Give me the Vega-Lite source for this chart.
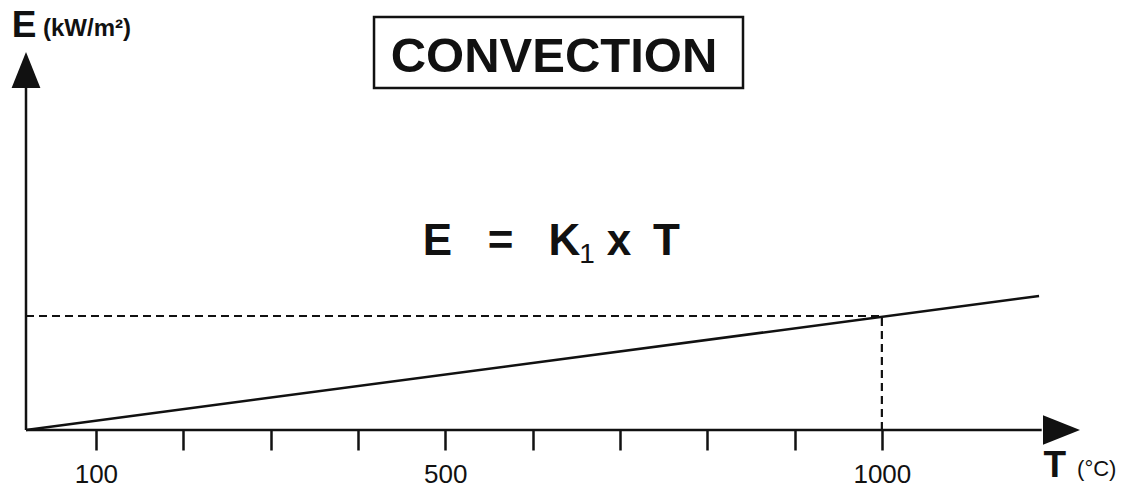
{
  "$schema": "https://vega.github.io/schema/vega-lite/v6.json",
  "autosize": {"type": "none"},
  "padding": {"left": 26, "top": 52, "right": 48, "bottom": 60},
  "width": 1048,
  "height": 378,
  "background": "white",
  "config": {
    "view": {"stroke": null},
    "font": "Liberation Sans",
    "axisX": {
      "domain": false,
      "grid": false,
      "tickSize": 20,
      "tickWidth": 2.5,
      "tickColor": "#111",
      "labelFontSize": 26,
      "labelFont": "Liberation Sans",
      "labelColor": "#111",
      "labelPadding": 11,
      "labelFlush": false,
      "labelOverlap": false,
      "labelBound": false
    }
  },
  "datasets": {
    "yAxisLine": [{"T": 20, "E": 0, "E2": 34.2}],
    "xAxisLine": [{"T": 20, "T2": 1183, "E": 0}],
    "yArrow": [{"T": 20, "E": 36}],
    "xArrow": [{"T": 1205.7, "E": 0}],
    "flux": [{"T": 20, "E": 0}, {"T": 1180, "E": 13.4}],
    "refH": [{"T": 20, "T2": 1000, "E": 11.4}],
    "refV": [{"T": 1000, "E": 0, "E2": 11.4}],
    "titleBox": [{"T": 418.5, "T2": 841, "E": 41.3, "E2": 34.2}],
    "titleText": [{"T": 624.6, "E": 35.8, "text": "CONVECTION"}],
    "formula": [
      {"T": 491.2, "E": 17.5, "text": "E"},
      {"T": 563.3, "E": 17.5, "text": "="},
      {"T": 636.6, "E": 17.5, "text": "K"},
      {"T": 699, "E": 17.5, "text": "x"},
      {"T": 753.4, "E": 17.5, "text": "T"}
    ],
    "formulaSub": [{"T": 662.4, "E": 16.7, "text": "1"}],
    "axisNames": [
      {"T": 17.7, "E": 39.3, "text": "E"},
      {"T": 1198, "E": -4.7, "text": "T"}
    ],
    "unitE": [{"T": 39.5, "E": 39.4, "text": "(kW/m²)"}],
    "unitT": [{"T": 1223.5, "E": -4.6, "text": "(°C)"}]
  },
  "layer": [
    {
      "data": {"name": "xAxisLine"},
      "mark": {"type": "rule", "stroke": "#111", "strokeWidth": 2.5},
      "encoding": {
        "x": {
          "field": "T", "type": "quantitative",
          "scale": {"domain": [20, 1220], "nice": false, "zero": false},
          "axis": {
            "title": null,
            "values": [100, 200, 300, 400, 500, 600, 700, 800, 900, 1000],
            "format": "d",
            "labelExpr": "datum.value == 100 || datum.value == 500 || datum.value == 1000 ? datum.label : ''"
          }
        },
        "x2": {"field": "T2"},
        "y": {
          "field": "E", "type": "quantitative",
          "scale": {"domain": [0, 37.8], "nice": false, "zero": false},
          "axis": null
        }
      }
    },
    {
      "data": {"name": "yAxisLine"},
      "mark": {"type": "rule", "stroke": "#111", "strokeWidth": 2.5},
      "encoding": {
        "x": {"field": "T", "type": "quantitative"},
        "y": {"field": "E", "type": "quantitative", "axis": null},
        "y2": {"field": "E2"}
      }
    },
    {
      "data": {"name": "yArrow"},
      "mark": {"type": "point", "shape": "M0,-1L0.8,1L-0.8,1Z", "size": 1296, "filled": true, "fill": "#111", "opacity": 1, "strokeWidth": 0},
      "encoding": {
        "x": {"field": "T", "type": "quantitative"},
        "y": {"field": "E", "type": "quantitative", "axis": null}
      }
    },
    {
      "data": {"name": "xArrow"},
      "mark": {"type": "point", "shape": "M1,0L-1,-0.8L-1,0.8Z", "size": 1369, "filled": true, "fill": "#111", "opacity": 1, "strokeWidth": 0},
      "encoding": {
        "x": {"field": "T", "type": "quantitative"},
        "y": {"field": "E", "type": "quantitative", "axis": null}
      }
    },
    {
      "data": {"name": "refH"},
      "mark": {"type": "rule", "stroke": "#111", "strokeWidth": 2.2, "strokeDash": [8, 5]},
      "encoding": {
        "x": {"field": "T", "type": "quantitative"},
        "x2": {"field": "T2"},
        "y": {"field": "E", "type": "quantitative", "axis": null}
      }
    },
    {
      "data": {"name": "refV"},
      "mark": {"type": "rule", "stroke": "#111", "strokeWidth": 2.2, "strokeDash": [8, 5]},
      "encoding": {
        "x": {"field": "T", "type": "quantitative"},
        "y": {"field": "E", "type": "quantitative", "axis": null},
        "y2": {"field": "E2"}
      }
    },
    {
      "data": {"name": "flux"},
      "mark": {"type": "line", "stroke": "#111", "strokeWidth": 2.5},
      "encoding": {
        "x": {"field": "T", "type": "quantitative"},
        "y": {"field": "E", "type": "quantitative", "axis": null}
      }
    },
    {
      "data": {"name": "titleBox"},
      "mark": {"type": "rect", "fill": "white", "stroke": "#111", "strokeWidth": 2.5},
      "encoding": {
        "x": {"field": "T", "type": "quantitative"},
        "x2": {"field": "T2"},
        "y": {"field": "E", "type": "quantitative", "axis": null},
        "y2": {"field": "E2"}
      }
    },
    {
      "data": {"name": "titleText"},
      "mark": {"type": "text", "fontSize": 49, "fontWeight": "bold", "align": "center", "baseline": "alphabetic", "color": "#111"},
      "encoding": {
        "x": {"field": "T", "type": "quantitative"},
        "y": {"field": "E", "type": "quantitative", "axis": null},
        "text": {"field": "text"}
      }
    },
    {
      "data": {"name": "formula"},
      "mark": {"type": "text", "fontSize": 44, "fontWeight": "bold", "align": "center", "baseline": "alphabetic", "color": "#111"},
      "encoding": {
        "x": {"field": "T", "type": "quantitative"},
        "y": {"field": "E", "type": "quantitative", "axis": null},
        "text": {"field": "text"}
      }
    },
    {
      "data": {"name": "formulaSub"},
      "mark": {"type": "text", "fontSize": 28, "fontWeight": "normal", "align": "center", "baseline": "alphabetic", "color": "#111"},
      "encoding": {
        "x": {"field": "T", "type": "quantitative"},
        "y": {"field": "E", "type": "quantitative", "axis": null},
        "text": {"field": "text"}
      }
    },
    {
      "data": {"name": "axisNames"},
      "mark": {"type": "text", "fontSize": 37, "fontWeight": "bold", "align": "center", "baseline": "alphabetic", "color": "#111"},
      "encoding": {
        "x": {"field": "T", "type": "quantitative"},
        "y": {"field": "E", "type": "quantitative", "axis": null},
        "text": {"field": "text"}
      }
    },
    {
      "data": {"name": "unitE"},
      "mark": {"type": "text", "fontSize": 24, "fontWeight": "bold", "align": "left", "baseline": "alphabetic", "color": "#111"},
      "encoding": {
        "x": {"field": "T", "type": "quantitative"},
        "y": {"field": "E", "type": "quantitative", "axis": null},
        "text": {"field": "text"}
      }
    },
    {
      "data": {"name": "unitT"},
      "mark": {"type": "text", "fontSize": 22, "fontWeight": "normal", "align": "left", "baseline": "alphabetic", "color": "#111"},
      "encoding": {
        "x": {"field": "T", "type": "quantitative"},
        "y": {"field": "E", "type": "quantitative", "axis": null},
        "text": {"field": "text"}
      }
    }
  ]
}
